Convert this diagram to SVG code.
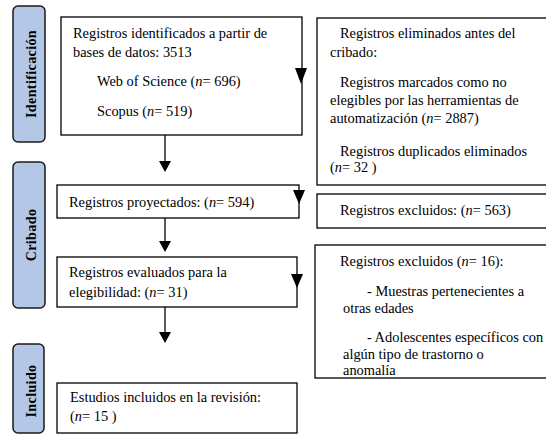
<svg xmlns="http://www.w3.org/2000/svg" width="546" height="434" viewBox="0 0 546 434">
<defs>
<style>
.box{fill:#ffffff;stroke:#000000;stroke-width:1.3}
.pill{fill:#b4c7e7;stroke:#1a1a1a;stroke-width:1.5}
.t{font-family:"Liberation Serif","Times New Roman",serif;font-size:14.4px;fill:#000000}
.lab{font-family:"Liberation Serif","Times New Roman",serif;font-size:14px;font-weight:bold;letter-spacing:0.4px;fill:#000000}
.ln{stroke:#000000;stroke-width:1.3;fill:none}
.ah{fill:#000000}
</style>
</defs>
<rect x="0" y="0" width="546" height="434" fill="#ffffff"/>

<g id="phase-identificacion">
<rect class="pill" x="13" y="6" width="32" height="136" rx="5"/>
<text class="lab" transform="translate(35.5,74) rotate(-90)" text-anchor="middle">Identificación</text>
</g>
<g id="phase-cribado">
<rect class="pill" x="13" y="162" width="32" height="146" rx="5"/>
<text class="lab" transform="translate(35.5,235) rotate(-90)" text-anchor="middle">Cribado</text>
</g>
<g id="phase-incluido">
<rect class="pill" x="13" y="344" width="31" height="89" rx="5"/>
<text class="lab" transform="translate(35.5,391) rotate(-90)" text-anchor="middle">Incluido</text>
</g>

<g id="node-identificados">
<rect class="box" x="61" y="17" width="241" height="118"/>
<text class="t" x="73" y="38">Registros identificados a partir de</text>
<text class="t" x="73" y="57">bases de datos: 3513</text>
<text class="t" x="97" y="86">Web of Science (<tspan font-style="italic">n</tspan>= 696)</text>
<text class="t" x="97" y="116">Scopus (<tspan font-style="italic">n</tspan>= 519)</text>
</g>

<g id="node-eliminados">
<rect class="box" x="317" y="18" width="240" height="167"/>
<text class="t" x="340" y="38">Registros eliminados antes del</text>
<text class="t" x="330" y="57">cribado:</text>
<text class="t" x="340" y="87">Registros marcados como no</text>
<text class="t" x="330" y="105">elegibles por las herramientas de</text>
<text class="t" x="330" y="123">automatización (<tspan font-style="italic">n</tspan>= 2887)</text>
<text class="t" x="340" y="156">Registros duplicados eliminados</text>
<text class="t" x="330" y="172">(<tspan font-style="italic">n</tspan>= 32 )</text>
</g>

<g id="node-proyectados">
<rect class="box" x="57" y="185" width="242" height="33"/>
<text class="t" x="69" y="207">Registros proyectados:  (<tspan font-style="italic">n</tspan>= 594)</text>
</g>

<g id="node-excluidos-563">
<rect class="box" x="317" y="194" width="240" height="34"/>
<text class="t" x="340" y="215">Registros excluidos: (<tspan font-style="italic">n</tspan>= 563)</text>
</g>

<g id="node-evaluados">
<rect class="box" x="57" y="257" width="240" height="50"/>
<text class="t" x="69" y="277">Registros evaluados para la</text>
<text class="t" x="69" y="297">elegibilidad: (<tspan font-style="italic">n</tspan>= 31)</text>
</g>

<g id="node-excluidos-16">
<rect class="box" x="315" y="245" width="242" height="133"/>
<text class="t" x="340" y="266">Registros excluidos (<tspan font-style="italic">n</tspan>= 16):</text>
<text class="t" x="367" y="296">- Muestras pertenecientes a</text>
<text class="t" x="343" y="313">otras edades</text>
<text class="t" x="367" y="342">- Adolescentes específicos con</text>
<text class="t" x="343" y="359">algún tipo de trastorno o</text>
<text class="t" x="343" y="375">anomalía</text>
</g>

<g id="node-incluidos">
<rect class="box" x="57" y="383" width="240" height="50"/>
<text class="t" x="70" y="402">Estudios incluidos en la revisión:</text>
<text class="t" x="70" y="421">(<tspan font-style="italic">n</tspan>= 15 )</text>
</g>

<g id="connectors">
<line class="ln" x1="165" y1="135" x2="165" y2="162"/>
<polygon class="ah" points="159,161 171,161 165,172"/>
<line class="ln" x1="165" y1="218" x2="165" y2="242"/>
<polygon class="ah" points="159,241 171,241 165,252"/>
<line class="ln" x1="165" y1="307" x2="165" y2="333"/>
<polygon class="ah" points="159,332 171,332 165,343"/>
<polygon class="ah" points="295,68 307,68 301,84"/>
<polygon class="ah" points="293,190 305,190 299,204"/>
<polygon class="ah" points="291,274 303,274 297,288"/>
</g>
</svg>
